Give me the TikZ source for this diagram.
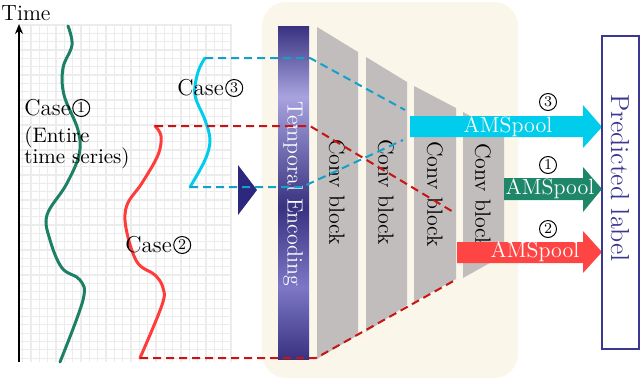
\documentclass[tikz,border=0pt]{standalone}
\usepackage{fontspec}
\usetikzlibrary{arrows.meta,positioning}

\definecolor{bgbeige}{RGB}{250,246,233}
\definecolor{gridgray}{RGB}{236,236,236}
\definecolor{blockgray}{RGB}{193,189,189}
\definecolor{curvegreen}{RGB}{28,128,100}
\definecolor{arrowgreen}{RGB}{30,135,105}
\definecolor{curvered}{RGB}{255,60,60}
\definecolor{arrowred}{RGB}{255,68,68}
\definecolor{dashred}{RGB}{200,20,20}
\definecolor{curvecyan}{RGB}{0,205,235}
\definecolor{dashcyan}{RGB}{20,160,200}
\definecolor{navy}{RGB}{45,40,125}
\definecolor{labelblue}{RGB}{60,55,145}
\definecolor{tedark}{RGB}{56,50,128}
\definecolor{temid}{RGB}{125,120,198}
\definecolor{telight}{RGB}{168,163,222}

\pgfdeclareverticalshading{tebar}{100bp}{color(0bp)=(tedark); color(25bp)=(tedark);
  color(35.8bp)=(temid); color(47.8bp)=(tedark); color(64.4bp)=(telight);
  color(75bp)=(tedark); color(100bp)=(tedark)}

\tikzset{
  gridline/.style={gridgray, line width=0.6pt},
  curve/.style={line width=1.5pt, line cap=round},
  guide/.style={line width=1pt, dash pattern=on 4pt off 2.5pt},
  convblock/.style={fill=blockgray},
  caselbl/.style={anchor=west, inner sep=0pt, font=\fontsize{11.5}{13}\selectfont},
  numcirc/.style={circle, draw, line width=0.5pt, inner sep=0pt, minimum size=8.5pt,
    font=\fontsize{7.5}{8}\selectfont},
  poollabel/.style={text=white},
}

\begin{document}
\begin{tikzpicture}[x=0.5pt, y=-0.5pt, every node/.style={font=\fontsize{11}{13}\selectfont}]
    \useasboundingbox (0,0) rectangle (640,380);

    % Grid
    \foreach \i in {0,...,25} \draw[gridline] ({22.7+8.33*\i},25) -- ({22.7+8.33*\i},362);
    \foreach \j in {0,...,40} \draw[gridline] (19,{25+8.33*\j}) -- (232,{25+8.33*\j});

    % Time axis
    \node (timelbl) at (26,13) {Time};
    \coordinate (axbot) at (19,362);
    \coordinate (axtop) at (19,24);
    \draw[-{Stealth[length=5pt, width=4pt]}, line width=0.8pt] (axbot) -- (axtop);

    % Case 1 (entire series)
    \draw[curve, curvegreen] plot[smooth, tension=0.6] coordinates {(68,26) (72,45) (63,68)
      (64,95) (78,130) (79,155) (66,185) (47,215) (50,240) (62,268) (80,280) (83,300) (60,362)};
    \node[caselbl] (case1) at (24,108) {Case};
    \node[numcirc, right=0.5pt of case1] (case1num) {1};
    \node[caselbl, font=\fontsize{10.5}{12}\selectfont] (entire) at (24,137) {(Entire};
    \node[caselbl, font=\fontsize{10.5}{12}\selectfont] (tseries) at (24,158) {time series)};

    % Case 2
    \draw[curve, curvered] plot[smooth, tension=0.6] coordinates {(155,126) (161,136) (158,155)
      (142,183) (127,205) (126,228) (137,262) (155,275) (163,288) (162,305) (140,358)};
    \node[caselbl] (case2) at (125,245) {Case};
    \node[numcirc, right=0.5pt of case2] (case2num) {2};

    % Case 3
    \draw[curve, curvecyan] plot[smooth, tension=0.6] coordinates {(205,58) (198,72) (195,95)
      (205,120) (210,140) (205,160) (190,187)};
    \node[caselbl] (case3) at (177,88) {Case};
    \node[numcirc, right=0.5pt of case3] (case3num) {3};

    % Input marker
    \fill[navy] (238,165) -- (257,190) -- (238,215) -- cycle;

    % Network background
    \fill[bgbeige, rounded corners=12pt] (262,2) rectangle (518,378);

    % Temporal encoding
    \shade[shading=tebar] (278,26) rectangle (309,359);
    \node[rotate=-90, text=white] (tenc) at (293,194) {Temporal Encoding};

    % Conv blocks
    \fill[convblock] (317,27) -- (358,52) -- (358,335) -- (317,359) -- cycle;
    \node[rotate=-90] (conv1) at (337,192) {Conv block};
    \fill[convblock] (366,57) -- (407,82) -- (407,305) -- (366,332) -- cycle;
    \node[rotate=-90] (conv2) at (386,192) {Conv block};
    \fill[convblock] (414,86) -- (456,108) -- (456,279) -- (414,302) -- cycle;
    \node[rotate=-90] (conv3) at (435,194) {Conv block};
    \fill[convblock] (463,112) -- (504,135) -- (504,255) -- (463,278) -- cycle;
    \node[rotate=-90] (conv4) at (483,196) {Conv block};

    % Case 3 window
    \coordinate (c3top) at (205,58);
    \coordinate (c3bot) at (190,187);
    \draw[guide, dashcyan] (c3top) -- (310,58) -- (405,110);
    \draw[guide, dashcyan] (c3bot) -- (302,187) -- (403,140);

    % Case 2 window
    \coordinate (c2top) at (155,126);
    \coordinate (c2bot) at (140,358);
    \draw[guide, dashred] (c2top) -- (310,126) -- (455,213);
    \draw[guide, dashred] (c2bot) -- (316,358) -- (457,279);

    % AMSpool outputs
    \fill[curvecyan] (410,116) -- (583,116) -- (583,105) -- (602,127) -- (583,148)
      -- (583,137) -- (410,137) -- cycle;
    \node[poollabel] (pool3) at (508,127) {AMSpool};
    \node[numcirc] (num3) at (548,102) {3};

    \fill[arrowgreen] (504,178) -- (583,178) -- (583,167) -- (602,189) -- (583,212)
      -- (583,200) -- (504,200) -- cycle;
    \node[poollabel] (pool1) at (550,189) {AMSpool};
    \node[numcirc] (num1) at (548,165) {1};

    \fill[arrowred] (457,242) -- (583,242) -- (583,231) -- (602,252) -- (583,273)
      -- (583,263) -- (457,263) -- cycle;
    \node[poollabel] (pool2) at (535,252) {AMSpool};
    \node[numcirc] (num2) at (548,229) {2};

    % Output
    \node[draw=labelblue, line width=0.6pt, minimum width=18.5pt, minimum height=156.5pt,
      inner sep=0pt] (predbox) at (620.5,192.5) {};
    \node[rotate=-90, text=labelblue, font=\fontsize{13}{15}\selectfont] (predlbl) at (620,178) {Predicted label};
\end{tikzpicture}
\end{document}
